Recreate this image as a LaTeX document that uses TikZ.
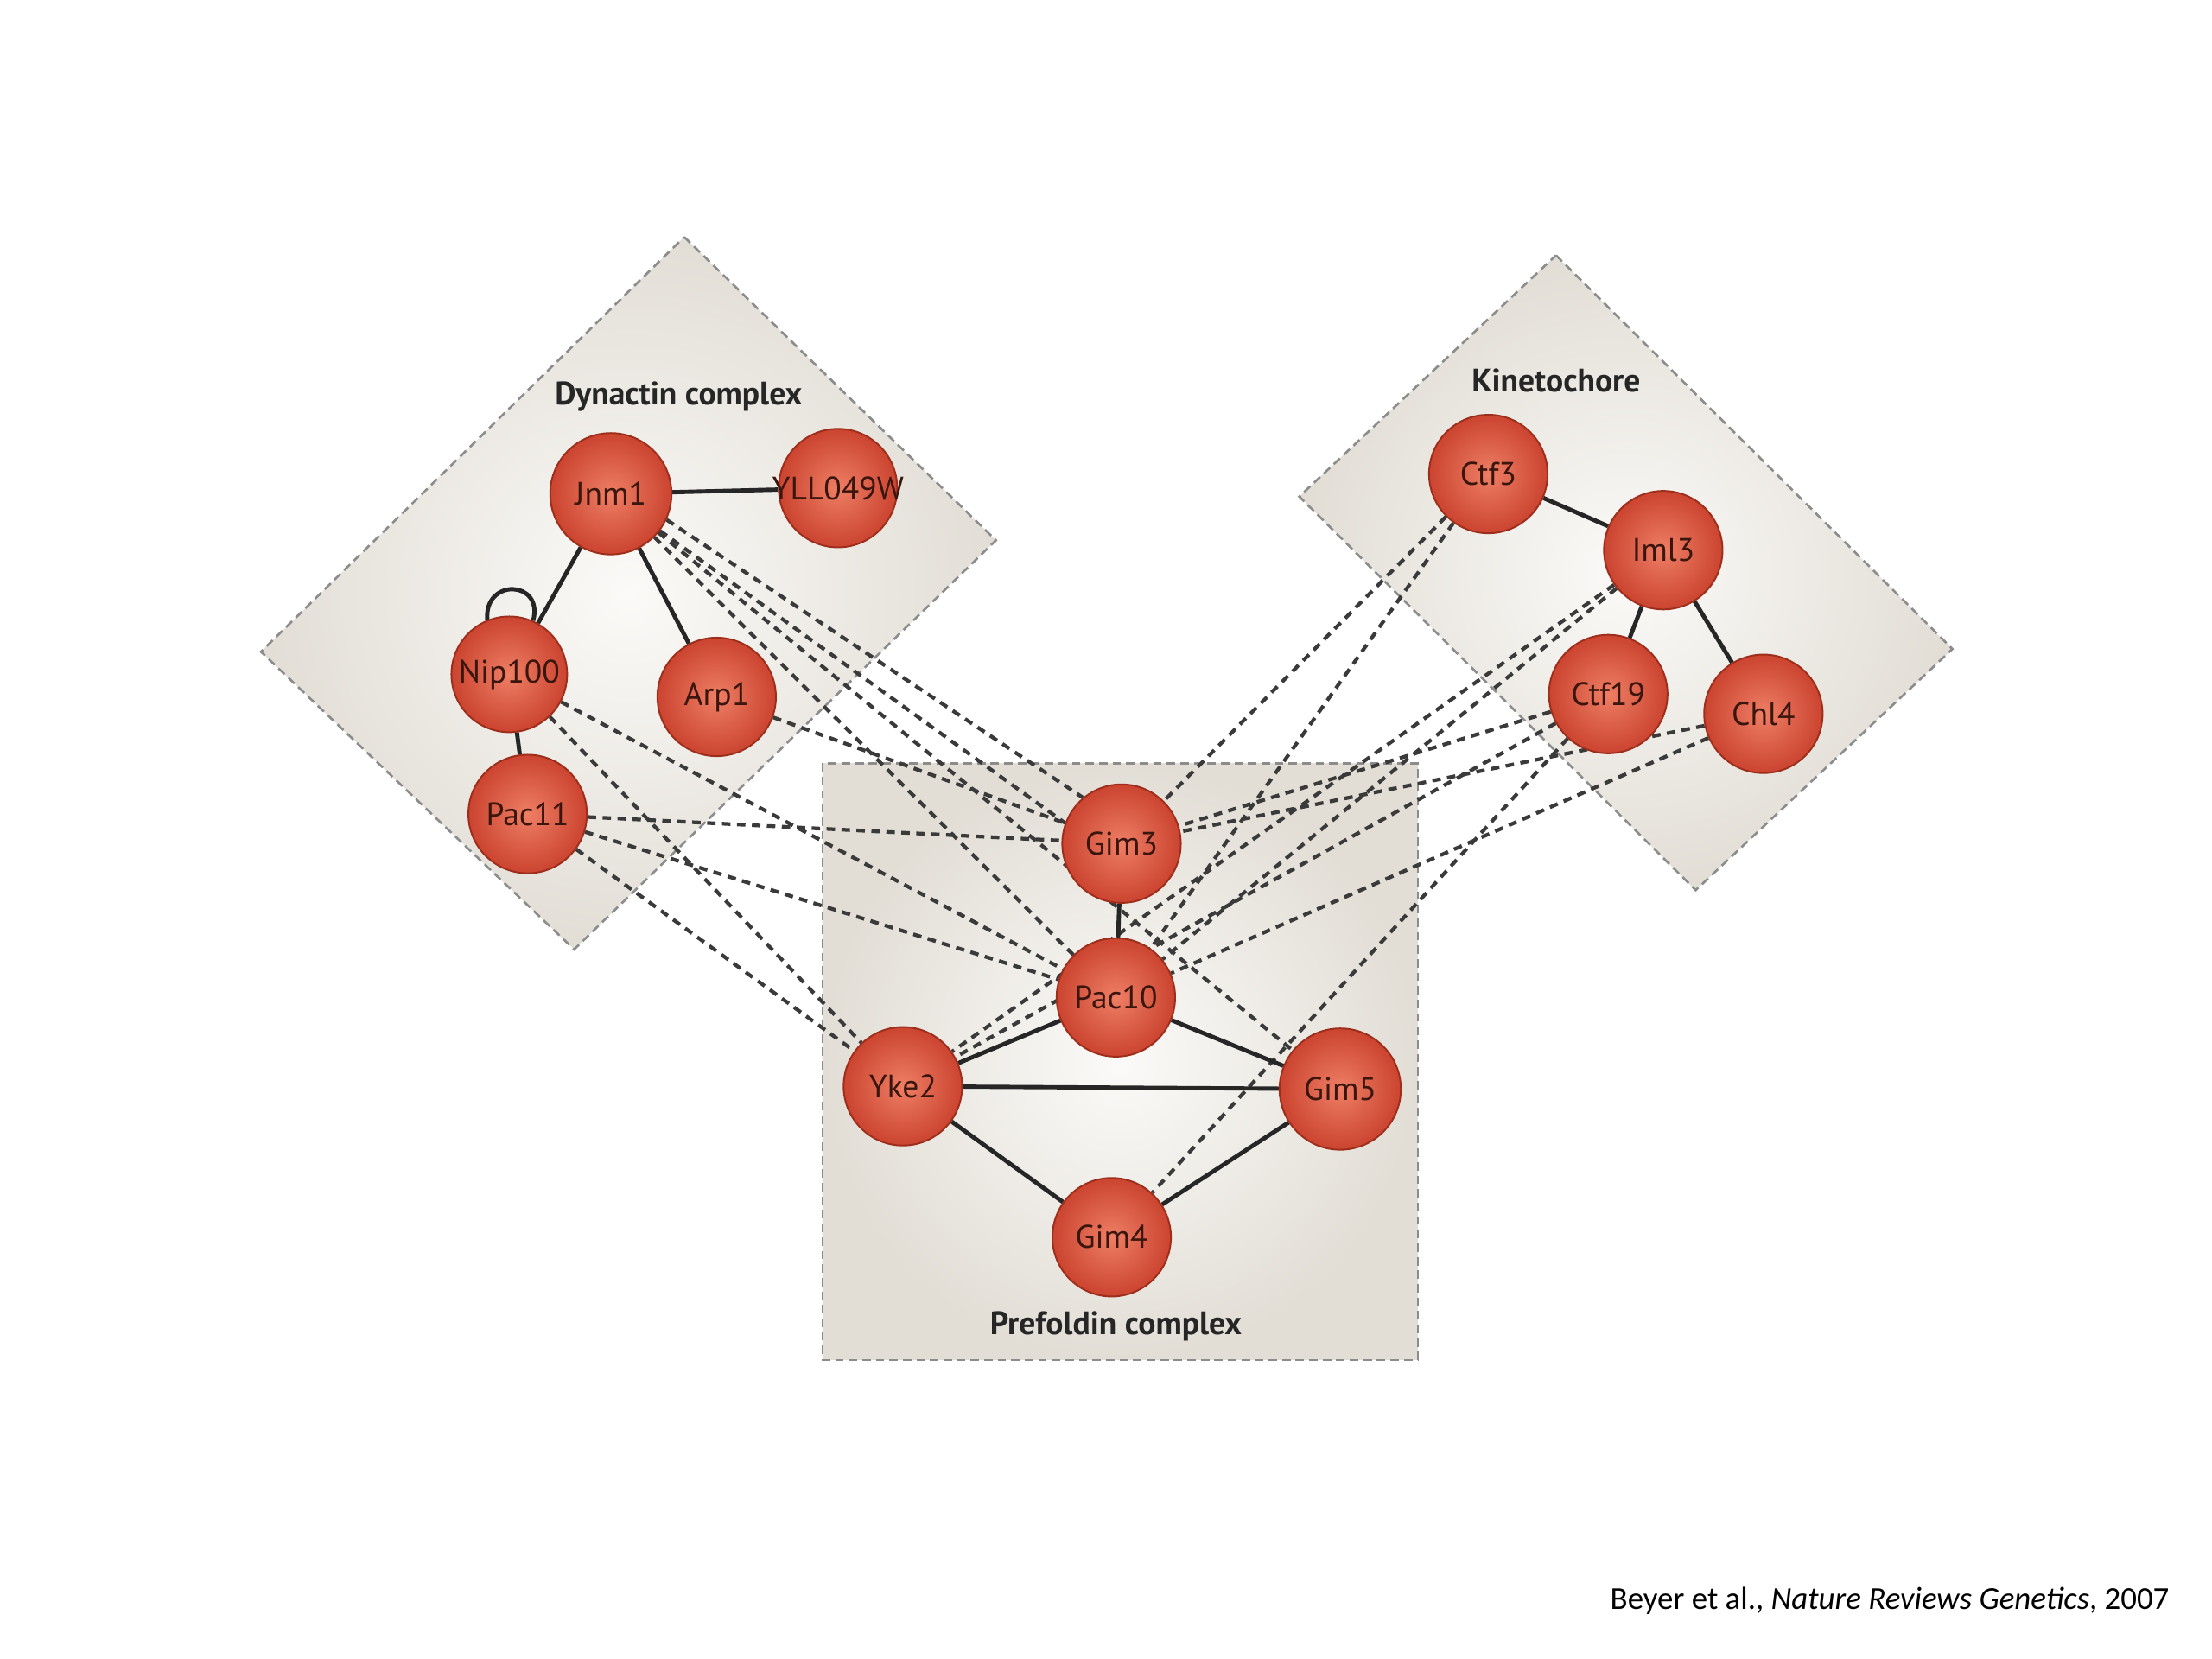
\documentclass[tikz,border=0pt]{standalone}
\usepackage{fontspec}
\setmainfont{PT Sans}
\newfontfamily\capfont{Carlito}
\definecolor{protin}{HTML}{EE7E64}
\definecolor{protout}{HTML}{CB4430}
\definecolor{protedge}{HTML}{9E2E1C}
\definecolor{prottext}{HTML}{3A160E}
\definecolor{boxin}{HTML}{FBFAF8}
\definecolor{boxout}{HTML}{E2DED6}
\definecolor{boxline}{HTML}{8C8C8C}
\definecolor{linkcol}{HTML}{3A3A3A}
\pgfdeclarelayer{paper}
\pgfdeclarelayer{boxes}
\pgfdeclarelayer{links}
\pgfsetlayers{paper,boxes,links,main}
\begin{document}
\begin{tikzpicture}[x=0.5pt,y=0.5pt,
  prot/.style={circle, minimum size=42pt, inner sep=0pt, draw=protedge, line width=0.6pt,
    inner color=protin, outer color=protout, text=prottext,
    font=\fontsize{11.5}{12}\selectfont},
  cplx/.style={draw=boxline, line width=0.8pt, dash pattern=on 3pt off 1.8pt,
    inner color=boxin, outer color=boxout},
  title/.style={font=\bfseries\fontsize{11.5}{13}\selectfont, text=black!85},
  solidlink/.style={draw=black!85, line width=1.5pt},
  gi/.style={draw=linkcol, line width=1.3pt, dash pattern=on 3pt off 2.3pt}]
\begin{pgfonlayer}{paper}
\fill[white] (0,0) rectangle (1568,-1176);
\end{pgfonlayer}
\useasboundingbox (0,0) rectangle (1568,-1176);

% complexes
\begin{pgfonlayer}{boxes}
\path[cplx] (485,-168) -- (706,-383) -- (407,-673) -- (185,-462) -- cycle;
\path[cplx] (1103,-181) -- (1384,-460) -- (1202,-631) -- (921,-352) -- cycle;
\path[cplx] (583,-541) rectangle (1005,-964);
\end{pgfonlayer}

\node[title] (tdyn) at (481,-281) {Dynactin complex};
\node[title] (tkin) at (1103,-270) {Kinetochore};
\node[title] (tpre) at (791,-940) {Prefoldin complex};

% proteins
\node[prot, minimum size=43pt] (Jnm1) at (433,-350) {Jnm1};
\node[prot] (YLL) at (594,-346) {\makebox[0pt]{YLL049W}};
\node[prot, minimum size=41pt] (Nip100) at (361,-478) {\makebox[0pt]{Nip100}};
\node[prot] (Arp1) at (508,-494) {Arp1};
\node[prot] (Pac11) at (374,-577) {Pac11};
\node[prot] (Ctf3) at (1055,-336) {Ctf3};
\node[prot] (Iml3) at (1179,-390) {Iml3};
\node[prot] (Ctf19) at (1140,-492) {Ctf19};
\node[prot] (Chl4) at (1250,-506) {Chl4};
\node[prot] (Gim3) at (795,-598) {Gim3};
\node[prot] (Pac10) at (791,-707) {Pac10};
\node[prot] (Yke2) at (640,-770) {Yke2};
\node[prot, minimum size=43pt] (Gim5) at (950,-772) {Gim5};
\node[prot] (Gim4) at (788,-877) {Gim4};

\begin{pgfonlayer}{links}
% genetic interactions (dashed)
\draw[gi] (Jnm1.-25) -- (Gim3.130);
\draw[gi] (Jnm1.-37) -- (Gim3.160);
\draw[gi] (Jnm1) -- (Gim5);
\draw[gi] (Jnm1) -- (Pac10);
\draw[gi] (Arp1) -- (Gim3);
\draw[gi] (Nip100) -- (Pac10);
\draw[gi] (Nip100) -- (Yke2);
\draw[gi] (Pac11) -- (Gim3);
\draw[gi] (Pac11) -- (Pac10);
\draw[gi] (Pac11) -- (Yke2);
\draw[gi] (Ctf3) -- (Gim3);
\draw[gi] (Ctf3) -- (Pac10);
\draw[gi] (Iml3) -- (Pac10);
\draw[gi] (Iml3) -- (Yke2);
\draw[gi] (Ctf19) -- (Gim3);
\draw[gi] (Ctf19) -- (Yke2);
\draw[gi] (Ctf19) -- (Gim4);
\draw[gi] (Chl4) -- (Gim3);
\draw[gi] (Chl4) -- (Pac10);
% physical interactions (solid)
\draw[solidlink] (Jnm1) -- (YLL);
\draw[solidlink] (Jnm1) -- (Nip100);
\draw[solidlink] (Jnm1) -- (Arp1);
\draw[solidlink] (Nip100) -- (Pac11);
\draw[solidlink] (Nip100.112) .. controls +(95:30) and +(75:30) .. (Nip100.66);
\draw[solidlink] (Ctf3) -- (Iml3);
\draw[solidlink] (Iml3) -- (Ctf19);
\draw[solidlink] (Iml3) -- (Chl4);
\draw[solidlink] (Gim3) -- (Pac10);
\draw[solidlink] (Pac10) -- (Yke2);
\draw[solidlink] (Pac10) -- (Gim5);
\draw[solidlink] (Yke2) -- (Gim5);
\draw[solidlink] (Yke2) -- (Gim4);
\draw[solidlink] (Gim5) -- (Gim4);
\end{pgfonlayer}

\node[anchor=east, font=\capfont\fontsize{11.3}{13}\selectfont, inner sep=0pt] (cap) at (1538,-1135)
  {Beyer et al., \textit{Nature Reviews Genetics}, 2007};
\end{tikzpicture}
\end{document}
